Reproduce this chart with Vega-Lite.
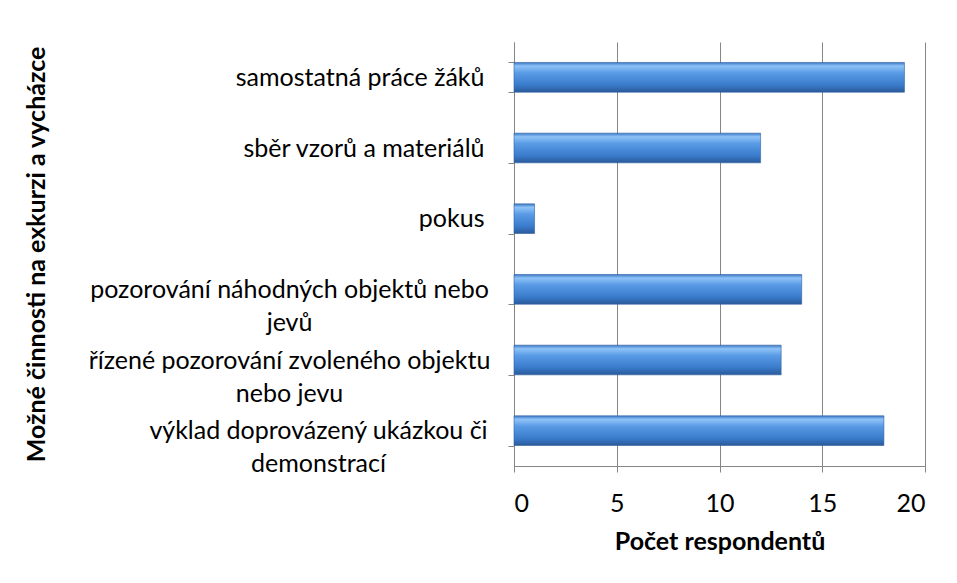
{
  "$schema": "https://vega.github.io/schema/vega-lite/v6.json",
  "width": 411,
  "height": 424,
  "autosize": {"type": "none"},
  "padding": {"left": 514, "top": 42, "right": 32, "bottom": 117},
  "background": "white",
  "data": {
    "values": [
      {"cinnost": "samostatná práce žáků", "pocet": 19},
      {"cinnost": "sběr vzorů a materiálů", "pocet": 12},
      {"cinnost": "pokus", "pocet": 1},
      {"cinnost": "pozorování náhodných objektů nebo jevů", "pocet": 14},
      {"cinnost": "řízené pozorování zvoleného objektu nebo jevu", "pocet": 13},
      {"cinnost": "výklad doprovázený ukázkou či demonstrací", "pocet": 18}
    ]
  },
  "mark": {
    "type": "bar",
    "color": {
      "gradient": "linear",
      "x1": 0, "y1": 0, "x2": 0, "y2": 1,
      "stops": [
        {"offset": 0, "color": "#3c78c8"},
        {"offset": 0.12, "color": "#8ec3f7"},
        {"offset": 0.35, "color": "#5a9be6"},
        {"offset": 0.75, "color": "#3a7ccc"},
        {"offset": 1, "color": "#2a5a9a"}
      ]
    },
    "stroke": "#2f5f9f",
    "strokeWidth": 0.6
  },
  "encoding": {
    "y": {
      "field": "cinnost",
      "type": "nominal",
      "sort": null,
      "scale": {"paddingInner": 0.58, "paddingOuter": 0.29},
      "axis": {
        "title": "Možné činnosti na exkurzi a vycházce",
        "titleFont": "Lato",
        "titleFontSize": 25,
        "titleFontWeight": "bold",
        "titleColor": "black",
        "titleX": -478,
        "titleY": 212,
        "titleAngle": -90,
        "titleAlign": "center",
        "titleBaseline": "middle",
        "labelFont": "Lato",
        "labelFontSize": 25,
        "labelColor": "black",
        "labelLimit": 600,
        "labelAlign": {
          "condition": {"test": "datum.value == 'pozorování náhodných objektů nebo jevů' || datum.value == 'řízené pozorování zvoleného objektu nebo jevu' || datum.value == 'výklad doprovázený ukázkou či demonstrací'", "value": "center"},
          "value": "right"
        },
        "labelPadding": {
          "condition": [
            {"test": "datum.value == 'výklad doprovázený ukázkou či demonstrací'", "value": 190},
            {"test": "datum.value == 'pozorování náhodných objektů nebo jevů' || datum.value == 'řízené pozorování zvoleného objektu nebo jevu'", "value": 219}
          ],
          "value": 24
        },
        "labelLineHeight": 33,
        "labelExpr": "datum.value == 'pozorování náhodných objektů nebo jevů' ? ['pozorování náhodných objektů nebo', 'jevů'] : datum.value == 'řízené pozorování zvoleného objektu nebo jevu' ? ['řízené pozorování zvoleného objektu', 'nebo jevu'] : datum.value == 'výklad doprovázený ukázkou či demonstrací' ? ['výklad doprovázený ukázkou či', 'demonstrací'] : datum.value",
        "tickBand": "extent",
        "tickSize": 6,
        "tickColor": "#868686",
        "domainColor": "#868686",
        "grid": false
      }
    },
    "x": {
      "field": "pocet",
      "type": "quantitative",
      "scale": {"domain": [0, 20]},
      "axis": {
        "title": "Počet respondentů",
        "titleFont": "Lato",
        "titleFontSize": 25,
        "titleFontWeight": "bold",
        "titleColor": "black",
        "titlePadding": 13,
        "values": [0, 5, 10, 15, 20],
        "labelFont": "Lato",
        "labelFontSize": 25,
        "labelColor": "black",
        "labelPadding": 19,
        "tickSize": 6,
        "tickColor": "#868686",
        "domainColor": "#868686",
        "grid": true,
        "gridColor": "#868686",
        "gridWidth": 1
      }
    }
  },
  "config": {"view": {"stroke": null}}
}
